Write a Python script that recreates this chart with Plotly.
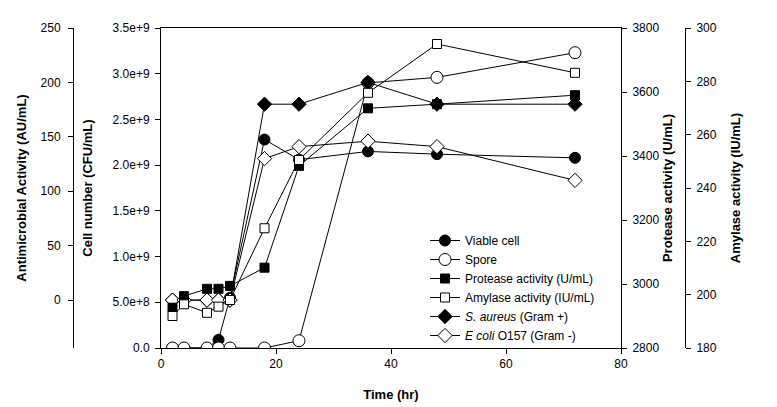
import plotly.graph_objects as go

# sampling times (hr)
time = [2, 4, 8, 10, 12, 18, 24, 36, 48, 72]

# cell number (CFU/mL)
viable_cell = [0, 0, 0, 0.09e9, 0.55e9, 2.28e9, 2.06e9, 2.15e9, 2.12e9, 2.08e9]
spore = [0, 0, 0, 0, 0, 0, 0.08e9, 2.90e9, 2.96e9, 3.23e9]

# enzyme activities
protease = [2926, 2962, 2985, 2985, 2994, 3051, 3369, 3549, 3562, 3590]
amylase = [192, 196.4, 193.2, 195.5, 198, 224.9, 250.5, 275.7, 294, 283.2]

# antimicrobial activity (AU/mL)
s_aureus = [0, 0, 0, 0, 0, 180, 180, 200, 180, 180]
e_coli = [0, 0, 0, 0, 0, 130, 141, 146, 141, 110]

cell_tickvals = [0, 5e8, 1e9, 1.5e9, 2e9, 2.5e9, 3e9, 3.5e9]
cell_ticktext = ['0.0', '5.0e+8', '1.0e+9', '1.5e+9', '2.0e+9', '2.5e+9', '3.0e+9', '3.5e+9']

FONT = 'Arial, Liberation Sans, sans-serif'
OFF = 8  # page body margin around the plot div
W, H = 777 - OFF, 407 - OFF
ML, MR = 2, 2
TOP, BOTTOM = 28 - OFF, 348 - OFF  # plot area in figure pixels


def px_x(p):
    # page pixel -> paper fraction (horizontal)
    return (p - OFF - ML) / (W - ML - MR)


def px_y(p):
    # page pixel -> paper fraction (vertical)
    return (BOTTOM - (p - OFF)) / (BOTTOM - TOP)


def series(x, y, name, symbol, filled, size, yaxis):
    return go.Scatter(
        x=x,
        y=y,
        name=name,
        yaxis=yaxis,
        mode='lines+markers',
        line=dict(color='black', width=1),
        marker=dict(
            symbol=symbol,
            size=size,
            color='black' if filled else 'white',
            line=dict(color='black', width=1),
        ),
    )


fig = go.Figure()
fig.add_trace(series(time, viable_cell, 'Viable cell', 'circle', True, 11, 'y'))
fig.add_trace(series(time, spore, 'Spore', 'circle', False, 12, 'y'))
fig.add_trace(series(time, protease, 'Protease activity (U/mL)', 'square', True, 9, 'y3'))
fig.add_trace(series(time, amylase, 'Amylase activity (IU/mL)', 'square', False, 9, 'y4'))
fig.add_trace(series(time, s_aureus, '<i>S. aureus</i> (Gram +)', 'diamond', True, 11, 'y2'))
fig.add_trace(series(time, e_coli, '<i>E coli</i> O157 (Gram -)', 'diamond', False, 11, 'y2'))

axis_common = dict(
    showline=True,
    linecolor='black',
    linewidth=1,
    ticks='outside',
    ticklen=5,
    tickcolor='black',
    showgrid=False,
    zeroline=False,
    tickfont=dict(family=FONT, size=12, color='black'),
    automargin=False,
)
title_font = dict(family=FONT, size=13, color='black', weight='bold')

fig.update_layout(
    width=W,
    height=H,
    margin=dict(l=ML, r=MR, t=TOP, b=H - BOTTOM),
    paper_bgcolor='white',
    plot_bgcolor='white',
    font=dict(family=FONT, size=12, color='black'),
    xaxis=dict(
        **axis_common,
        domain=[px_x(161), px_x(621)],
        range=[0, 80],
        dtick=20,
        mirror=True,
        title=dict(text='Time (hr)', font=title_font, standoff=19),
    ),
    yaxis=dict(
        **axis_common,
        ticklabelstandoff=3,
        range=[0, 3.5e9],
        tickvals=cell_tickvals,
        ticktext=cell_ticktext,
        title=dict(text='Cell number (CFU/mL)', font=title_font, standoff=17),
    ),
    yaxis2=dict(
        **axis_common,
        ticklabelstandoff=5,
        overlaying='y',
        anchor='free',
        position=px_x(73),
        side='left',
        range=[-44, 250],
        dtick=50,
        title=dict(text='Antimicrobial Activity (AU/mL)', font=title_font, standoff=10),
    ),
    yaxis3=dict(
        **axis_common,
        ticklabelstandoff=3,
        overlaying='y',
        anchor='x',
        side='right',
        range=[2800, 3800],
        dtick=200,
        title=dict(text='Protease activity (U/mL)', font=title_font, standoff=4),
    ),
    yaxis4=dict(
        **axis_common,
        ticklabelstandoff=3,
        overlaying='y',
        anchor='free',
        position=px_x(685),
        side='right',
        range=[180, 300],
        dtick=20,
        title=dict(text='Amylase activity (IU/mL)', font=title_font, standoff=15),
    ),
    legend=dict(
        x=px_x(425),
        y=px_y(226),
        xanchor='left',
        yanchor='top',
        bgcolor='rgba(0,0,0,0)',
        font=dict(family=FONT, size=12, color='black'),
    ),
    showlegend=True,
)

fig.write_html('out.html')
